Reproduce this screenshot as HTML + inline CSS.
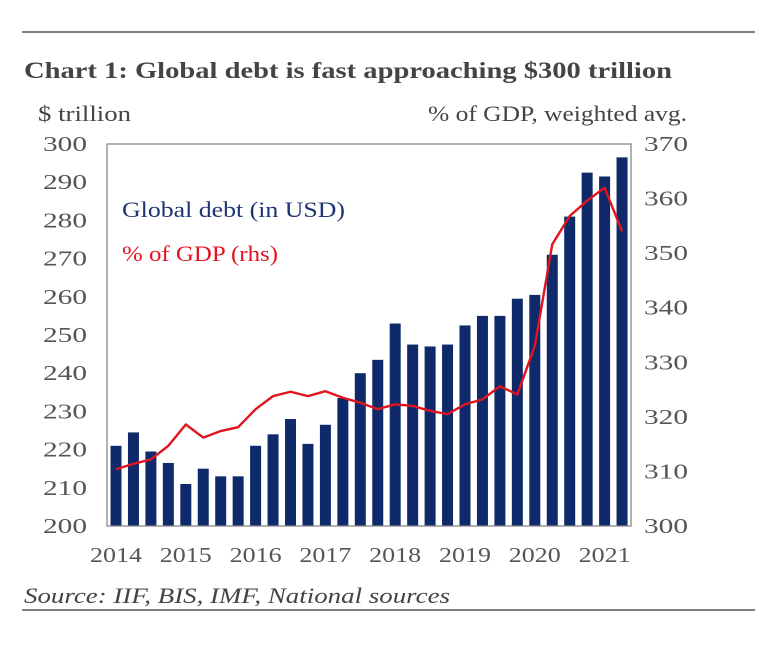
<!DOCTYPE html>
<html><head><meta charset="utf-8"><style>
body{margin:0;background:#fff;width:780px;height:646px;overflow:hidden;font-family:"Liberation Serif",serif}
</style></head><body>
<svg width="780" height="646" xmlns="http://www.w3.org/2000/svg">
<line x1="22" y1="32" x2="755" y2="32" stroke="#555" stroke-width="1.5"/>
<text x="24" y="78" font-size="23" font-weight="bold" fill="#444" textLength="648" lengthAdjust="spacingAndGlyphs">Chart 1: Global debt is fast approaching $300 trillion</text>
<text x="38" y="121" font-size="22" fill="#444" textLength="93" lengthAdjust="spacingAndGlyphs">$ trillion</text>
<text x="428" y="121" font-size="22" fill="#444" textLength="259" lengthAdjust="spacingAndGlyphs">% of GDP, weighted avg.</text>
<g id="leftTicks"></g>
<g id="rightTicks"></g>
<g id="bars"></g>
<path id="line" fill="none" stroke="#e0141e" stroke-width="2.4" stroke-linejoin="round"/>
<rect x="107" y="144" width="524" height="382" fill="none" stroke="#888" stroke-width="1.3"/>
<g id="xTicks"></g>
<text x="122" y="217" font-size="22" fill="#1f3473" textLength="223" lengthAdjust="spacingAndGlyphs">Global debt (in USD)</text>
<text x="122" y="261" font-size="22" fill="#e0141e" textLength="156" lengthAdjust="spacingAndGlyphs">% of GDP (rhs)</text>
<text x="24" y="603" font-size="22" font-style="italic" fill="#444" textLength="426" lengthAdjust="spacingAndGlyphs">Source: IIF, BIS, IMF, National sources</text>
<line x1="22" y1="610" x2="755" y2="610" stroke="#555" stroke-width="1.5"/>
</svg>
<script>
const debt=[221,224.5,219.5,216.5,211,215,213,213,221,224,228,221.5,226.5,233.5,240,243.5,253,247.5,247,247.5,252.5,255,255,259.5,260.5,271,281,292.5,291.5,296.5];
const gdp=[310.4,311.4,312.2,314.7,318.6,316.2,317.4,318.1,321.4,323.8,324.6,323.8,324.7,323.5,322.6,321.4,322.3,322,321.1,320.5,322.3,323.2,325.6,324.1,333,351.6,356.8,359.6,362,354];
const leftTickVals=[200,210,220,230,240,250,260,270,280,290,300];
const rightTickVals=[300,310,320,330,340,350,360,370];
const yearLabels=["2014","2015","2016","2017","2018","2019","2020","2021"];
const NS="http://www.w3.org/2000/svg";
const plotTop=144,plotBot=526,x0=107,step=17.45,bw=11;
const yL=v=>plotBot-(v-200)/100*(plotBot-plotTop);
const yR=v=>plotBot-(v-300)/70*(plotBot-plotTop);
const xc=i=>x0+3.5+bw/2+i*step;
const bars=document.getElementById('bars');
debt.forEach((v,i)=>{const r=document.createElementNS(NS,'rect');
r.setAttribute('x',xc(i)-bw/2);r.setAttribute('y',yL(v));r.setAttribute('width',bw);r.setAttribute('height',plotBot-yL(v));r.setAttribute('fill','#0f2a6b');


bars.appendChild(r);});
document.getElementById('line').setAttribute('d',gdp.map((v,i)=>(i?'L':'M')+xc(i)+','+yR(v)).join(''));
function txt(g,x,y,s,anchor,name,len){const t=document.createElementNS(NS,'text');t.setAttribute('x',x);t.setAttribute('y',y);t.setAttribute('font-size','21');t.setAttribute('fill','#555');t.setAttribute('text-anchor',anchor);t.setAttribute('textLength',len);t.setAttribute('lengthAdjust','spacingAndGlyphs');t.textContent=s;


g.appendChild(t);}
const lt=document.getElementById('leftTicks');
leftTickVals.forEach(v=>txt(lt,65,yL(v)+7,v,'middle','left-tick-'+v,44));
const rt=document.getElementById('rightTicks');
rightTickVals.forEach(v=>txt(rt,666,yR(v)+7,v,'middle','right-tick-'+v,44));
const xt=document.getElementById('xTicks');
yearLabels.forEach((s,k)=>txt(xt,xc(k*4),562,s,'middle','x-tick-'+s,52));
</script>
</body></html>
